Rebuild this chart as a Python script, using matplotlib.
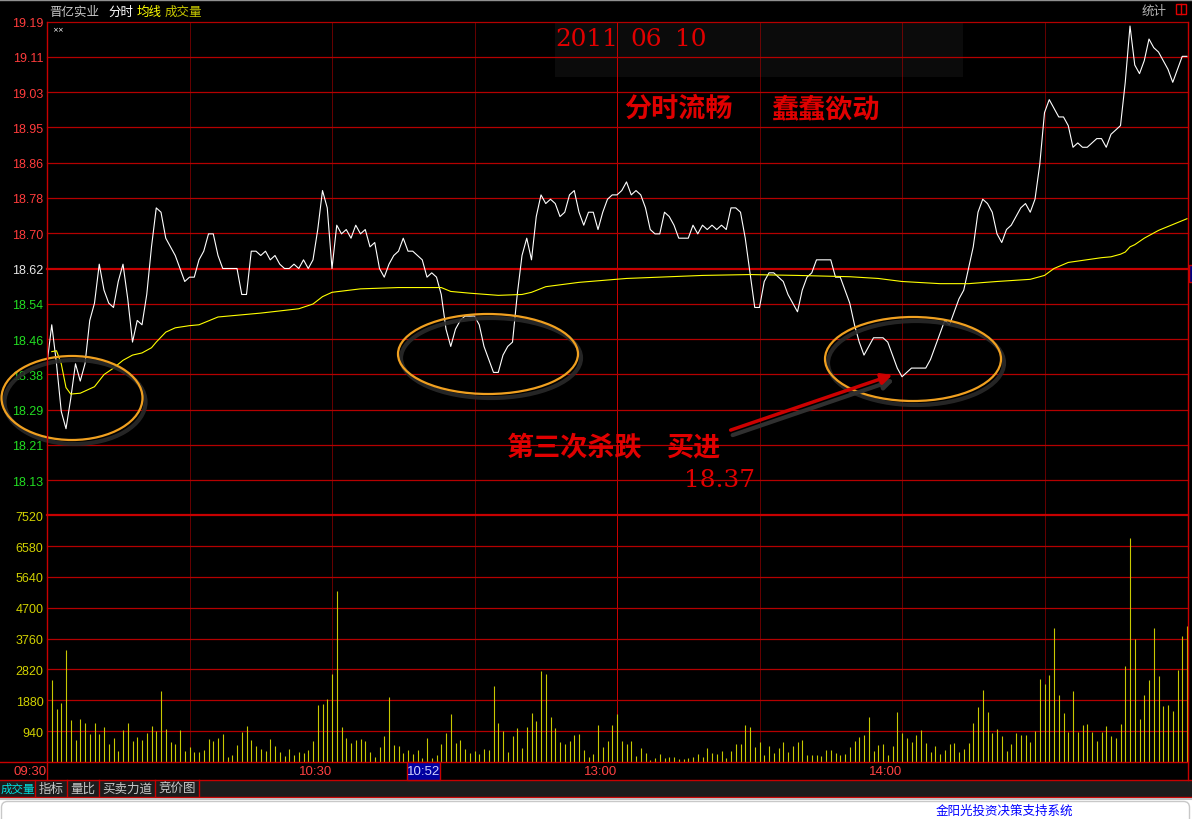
import matplotlib
matplotlib.use('Agg')
import matplotlib.pyplot as plt
from matplotlib.patches import Ellipse, Rectangle, FancyBboxPatch

plt.rcParams['font.family'] = ['Noto Sans CJK SC', 'DejaVu Sans']

# ---- data ----
prev_close = 18.62
price_labels = ['19.19', '19.11', '19.03', '18.95', '18.86', '18.78', '18.70',
                '18.62', '18.54', '18.46', '18.38', '18.29', '18.21', '18.13']
vol_labels = ['7520', '6580', '5640', '4700', '3760', '2820', '1880', '940']
vol_max = 7520
time_labels = ['09:30', '10:30', '13:00', '14:00']
time_label_minutes = [0, 60, 120, 180]
cursor_label = '10:52'
cursor_minute = 82

# one price per minute, 09:30 .. 11:30 + 13:00 .. 15:00 (241 points)
price = [
    18.40, 18.49, 18.40, 18.29, 18.25, 18.32, 18.40, 18.36, 18.40, 18.50,
    18.54, 18.63, 18.57, 18.54, 18.53, 18.59, 18.63, 18.55, 18.45, 18.50,
    18.49, 18.56, 18.67, 18.76, 18.75, 18.69, 18.67, 18.65, 18.62, 18.59,
    18.60, 18.60, 18.64, 18.66, 18.70, 18.70, 18.65, 18.62, 18.62, 18.62,
    18.62, 18.56, 18.56, 18.66, 18.66, 18.65, 18.66, 18.64, 18.65, 18.63,
    18.62, 18.62, 18.63, 18.62, 18.64, 18.62, 18.64, 18.71, 18.80, 18.76,
    18.62, 18.72, 18.70, 18.71, 18.69, 18.72, 18.70, 18.71, 18.67, 18.68,
    18.62, 18.60, 18.63, 18.65, 18.66, 18.69, 18.66, 18.66, 18.65, 18.64,
    18.60, 18.61, 18.60, 18.56, 18.48, 18.44, 18.48, 18.50, 18.51, 18.51,
    18.51, 18.49, 18.44, 18.41, 18.38, 18.38, 18.42, 18.44, 18.45, 18.56,
    18.65, 18.69, 18.64, 18.74, 18.79, 18.77, 18.78, 18.77, 18.74, 18.75,
    18.79, 18.80, 18.75, 18.72, 18.75, 18.75, 18.71, 18.75, 18.78, 18.79,
    18.79, 18.80, 18.82, 18.79, 18.80, 18.79, 18.76, 18.71, 18.70, 18.70,
    18.75, 18.74, 18.72, 18.69, 18.69, 18.69, 18.72, 18.70, 18.72, 18.71,
    18.72, 18.71, 18.72, 18.71, 18.76, 18.76, 18.75, 18.69, 18.61, 18.53,
    18.53, 18.59, 18.61, 18.61, 18.60, 18.59, 18.56, 18.54, 18.52, 18.57,
    18.60, 18.61, 18.64, 18.64, 18.64, 18.64, 18.60, 18.60, 18.57, 18.54,
    18.49, 18.45, 18.42, 18.44, 18.46, 18.46, 18.46, 18.45, 18.42, 18.39,
    18.37, 18.38, 18.39, 18.39, 18.39, 18.39, 18.41, 18.44, 18.47, 18.50,
    18.49, 18.52, 18.55, 18.57, 18.62, 18.67, 18.75, 18.78, 18.77, 18.75,
    18.70, 18.68, 18.71, 18.72, 18.74, 18.76, 18.77, 18.75, 18.78, 18.86,
    18.98, 19.01, 18.99, 18.97, 18.97, 18.95, 18.90, 18.91, 18.90, 18.90,
    18.91, 18.92, 18.92, 18.90, 18.93, 18.94, 18.95, 19.05, 19.18, 19.09,
    19.07, 19.10, 19.15, 19.13, 19.12, 19.10, 19.08, 19.05, 19.08, 19.11,
    19.11,
]

avg_minutes = [1, 2, 3, 4, 5, 7, 10, 12, 14, 16, 18, 20, 22, 23, 25, 27, 30, 32,
               36, 45, 53, 56, 58, 60, 66, 74, 83, 85, 89, 95, 100, 102, 105,
               112, 122, 138, 148, 158, 169, 175, 180, 188, 194, 200, 207, 210,
               212, 215, 222, 224, 226, 227, 228, 229, 231, 234, 240]
avg_price = [18.428, 18.430, 18.400, 18.345, 18.330, 18.332, 18.347, 18.375,
             18.390, 18.408, 18.420, 18.425, 18.437, 18.450, 18.473, 18.483,
             18.488, 18.490, 18.508, 18.517, 18.527, 18.538, 18.555, 18.565,
             18.573, 18.576, 18.576, 18.567, 18.563, 18.558, 18.560, 18.565,
             18.578, 18.588, 18.597, 18.604, 18.606, 18.604, 18.601, 18.597,
             18.590, 18.585, 18.585, 18.590, 18.595, 18.604, 18.620, 18.634,
             18.645, 18.647, 18.653, 18.658, 18.670, 18.675, 18.690, 18.708,
             18.735]

# volume for minutes 1 .. 240
volume = [
    2485, 1606, 1788, 3424, 1273, 667, 1303, 1182, 848, 1182,
    848, 1060, 545, 727, 323, 970, 1182, 636, 757, 667,
    879, 1091, 939, 2151, 1000, 606, 545, 970, 333, 455,
    303, 303, 364, 697, 636, 727, 848, 152, 212, 515,
    909, 1091, 667, 485, 394, 333, 697, 485, 303, 182,
    394, 212, 303, 273, 364, 636, 1727, 1757, 1909, 2697,
    5212, 1060, 727, 576, 667, 697, 636, 303, 152, 455,
    788, 1970, 515, 485, 273, 364, 242, 364, 121, 727,
    121, 212, 545, 879, 1454, 576, 667, 394, 273, 333,
    242, 394, 364, 2303, 1182, 939, 303, 788, 1030, 424,
    1060, 1485, 1242, 2788, 2697, 1364, 1030, 606, 545, 636,
    818, 848, 364, 152, 242, 1121, 455, 636, 1121, 1454,
    636, 545, 636, 182, 424, 273, 61, 121, 242, 121,
    152, 152, 91, 91, 121, 152, 242, 152, 424, 273,
    242, 333, 121, 333, 545, 545, 1121, 1060, 455, 606,
    212, 485, 273, 424, 606, 303, 485, 606, 667, 212,
    212, 212, 182, 364, 364, 273, 212, 242, 455, 636,
    758, 818, 1364, 333, 515, 545, 212, 485, 1515, 879,
    727, 606, 818, 970, 576, 303, 485, 242, 364, 545,
    576, 303, 394, 576, 1182, 1667, 2182, 1515, 879, 1000,
    788, 333, 545, 879, 818, 818, 606, 939, 2515, 2363,
    2666, 4090, 2030, 1485, 909, 2151, 909, 1121, 1151, 909,
    636, 909, 1091, 788, 727, 1151, 2939, 6818, 3757, 1303,
    2030, 2485, 4090, 2636, 1697, 1727, 1545, 2818, 3848, 4151,
]

# ---- layout (pixels) ----
W, H = 1192, 820
LEFT, RIGHT = 47, 1188
PRICE_TOP, PRICE_BOT, VOL_BOT = 22.7, 516.3, 763
MIN_PX = 4.75
RED_GRID = '#b40000'
BOX_RED = '#c80000'


def box(x0, y0, x1, y1):
    return [x0 / W, 1 - y1 / H, (x1 - x0) / W, (y1 - y0) / H]


fig = plt.figure(figsize=(W / 100, H / 100), dpi=100, facecolor='black')
ax_p = fig.add_axes(box(LEFT, PRICE_TOP, RIGHT, PRICE_BOT), zorder=1)
ax_v = fig.add_axes(box(LEFT, PRICE_BOT, RIGHT, VOL_BOT), zorder=1)
ov = fig.add_axes([0, 0, 1, 1], zorder=5)
ov.set_xlim(0, W)
ov.set_ylim(H, 0)
ov.axis('off')
ov.patch.set_visible(False)

xmax = (RIGHT - LEFT) / MIN_PX
step = (float(price_labels[0]) - prev_close) / 7
for ax in (ax_p, ax_v):
    ax.set_facecolor('black')
    ax.set_xlim(0, xmax)
    for s in ax.spines.values():
        s.set_visible(False)
    ax.set_xticks([])
    ax.tick_params(axis='y', length=0, pad=2.6)
    for m in (30, 60, 90, 150, 180, 210):
        ax.axvline(m, color=BOX_RED, lw=0.72, ls=(0, (1, 1)), zorder=1)
    ax.axvline(120, color=BOX_RED, lw=0.72, zorder=1)

# price panel
ax_p.set_ylim(prev_close - 7 * step, prev_close + 7 * step)
tick_pos = [prev_close + (7 - j) * step for j in range(len(price_labels))]
ax_p.set_yticks(tick_pos, price_labels, family='Liberation Sans', fontsize=9)
for j, t in enumerate(ax_p.get_yticklabels()):
    t.set_color('#ff3c3c' if j < 7 else ('#e6e6e6' if j == 7 else '#22dd22'))
for j, y in enumerate(tick_pos):
    ax_p.axhline(y, color=BOX_RED if j == 7 else RED_GRID,
                 lw=1.6 if j == 7 else 0.9, zorder=1, clip_on=False)
# faint box behind the date
ax_p.add_patch(Rectangle((555, 23), 408, 55, transform=ov.transData,
                         fc='#0b0b0b', ec='none', zorder=0.5))
minutes = list(range(len(price)))
ax_p.plot(minutes, price, color='white', lw=0.8, zorder=3)
ax_p.plot(avg_minutes, avg_price, color='#ffff00', lw=0.8, zorder=3)

# volume panel
ax_v.set_ylim(0, vol_max)
vol_vals = [float(v) for v in vol_labels]
ax_v.set_yticks(vol_vals, vol_labels, family='Liberation Sans', fontsize=9,
                color='#d2d200')
for v in vol_vals:
    ax_v.axhline(v, color=BOX_RED if v == vol_max else RED_GRID,
                 lw=1.6 if v == vol_max else 0.9, zorder=1, clip_on=False)
ax_v.vlines(range(1, len(volume) + 1), 0, volume, color='#c8c800', lw=0.8,
            zorder=3)
for lab, m in zip(time_labels, time_label_minutes):
    ax_v.text(m, -0.0365, lab, transform=ax_v.get_xaxis_transform(),
              ha='right', va='center', color='#ff4040',
              family='Liberation Sans', fontsize=9.5)

# ---- frame, header, bottom bars ----
ov.plot([0, W], [0.5, 0.5], color='#909090', lw=1)
ov.plot([LEFT, LEFT], [PRICE_TOP, 781], color=BOX_RED, lw=1)
ov.plot([RIGHT, RIGHT], [PRICE_TOP, 781], color=BOX_RED, lw=1)
ov.plot([0, RIGHT], [VOL_BOT, VOL_BOT], color=BOX_RED, lw=1)
ov.add_patch(Rectangle((1188.5, 266), 5, 17, fc='#000080', ec=BOX_RED, lw=1))

ov.text(49, 12.5, '晋亿实业', color='#c8c8c8', fontsize=9, va='center')
ov.text(108, 12.5, '分时', color='white', fontsize=9, va='center')
ov.text(137, 12.5, '均线', color='#ffff00', fontsize=9, va='center')
ov.text(165, 12.5, '成交量', color='#c8c800', fontsize=9, va='center')
ov.text(1142, 11, '统计', color='#b4b4b4', fontsize=9, va='center')
ov.add_patch(Rectangle((1176, 5), 10, 10, fc='none', ec='#e00000', lw=1))
ov.plot([1181, 1181], [5, 15], color='#e00000', lw=1)
ov.text(52, 30.5, '××', color='white', fontsize=5, va='center',
        family='DejaVu Sans')

# cursor time box
cx = LEFT + cursor_minute * MIN_PX
ov.add_patch(Rectangle((cx - 29.5, VOL_BOT), 33, 18, fc='#0000a0',
                       ec=BOX_RED, lw=1, zorder=4))
ov.text(cx - 13, 772, cursor_label, ha='center', va='center',
        color='#d0d0ff', family='Liberation Sans', fontsize=9.5, zorder=5)

# tab bar
ov.add_patch(Rectangle((0, 781), W, 17, fc='#1c1c1c', ec='none'))
ov.plot([0, W], [781, 781], color=BOX_RED, lw=1)
ov.plot([0, W], [797.5, 797.5], color=BOX_RED, lw=1)
for sx in (35, 67, 99, 155, 199):
    ov.plot([sx, sx], [781, 797.5], color=BOX_RED, lw=1)
ov.text(1, 789.5, '成交量', ha='left', va='center', color='#00e0e0',
        fontsize=8.3)
for lab, cxx in (('指标', 51), ('量比', 83), ('买卖力道', 127),
                 ('竞价图', 177)):
    ov.text(cxx, 789.5, lab, ha='center', va='center', color='#c8c8c8',
            fontsize=9)

# footer
ov.add_patch(Rectangle((0, 798.5), W, 22, fc='white', ec='none'))
ov.plot([0, W], [799.5, 799.5], color='#c0c0c0', lw=1.5)
ov.add_patch(FancyBboxPatch((1.5, 802.5), 1188, 30,
                            boxstyle='round,pad=0,rounding_size=6',
                            fc='white', ec='#c8c8c8', lw=1))
ov.text(1004, 811.5, '金阳光投资决策支持系统', ha='center', va='center',
        color='#0000ff', fontsize=9)

# ---- annotations ----
for (ex, ey, ew, eh) in ((72, 399, 141, 84), (488, 355, 180, 80),
                         (913, 360, 176, 84)):
    ov.add_patch(Ellipse((ex + 3, ey + 4), ew, eh, fc='none', ec='#2a2a2a',
                         lw=3, alpha=0.9))
    ov.add_patch(Ellipse((ex, ey), ew, eh, fc='none', ec='#f0a020', lw=1.6))

ov.annotate('', xy=(897, 380), xytext=(730, 437),
            arrowprops=dict(arrowstyle='-|>', color='#303030', lw=3,
                            mutation_scale=16))
ov.annotate('', xy=(895, 375), xytext=(728, 432),
            arrowprops=dict(arrowstyle='-|>', color='#cc0000', lw=2.5,
                            mutation_scale=16))

txt_red = '#e00000'
for s, x in (('2011', 555), ('06', 630), ('10', 675)):
    ov.text(x, 40, s, color=txt_red, family='DejaVu Serif', fontsize=17.8,
            va='center', ha='left')
ov.text(624, 109, '分时流畅', color=txt_red, fontsize=19.5, weight='bold',
        va='center', ha='left')
ov.text(771, 109, '蠢蠢欲动', color=txt_red, fontsize=19.5, weight='bold',
        va='center', ha='left')
ov.text(506, 447, '第三次杀跌', color=txt_red, fontsize=19.5, weight='bold',
        va='center', ha='left')
ov.text(666, 447, '买进', color=txt_red, fontsize=19.5, weight='bold',
        va='center', ha='left')
ov.text(684, 481, '18.37', color=txt_red, family='DejaVu Serif',
        fontsize=17.8, va='center', ha='left')

fig.savefig('out.png', dpi=100, facecolor='black')
